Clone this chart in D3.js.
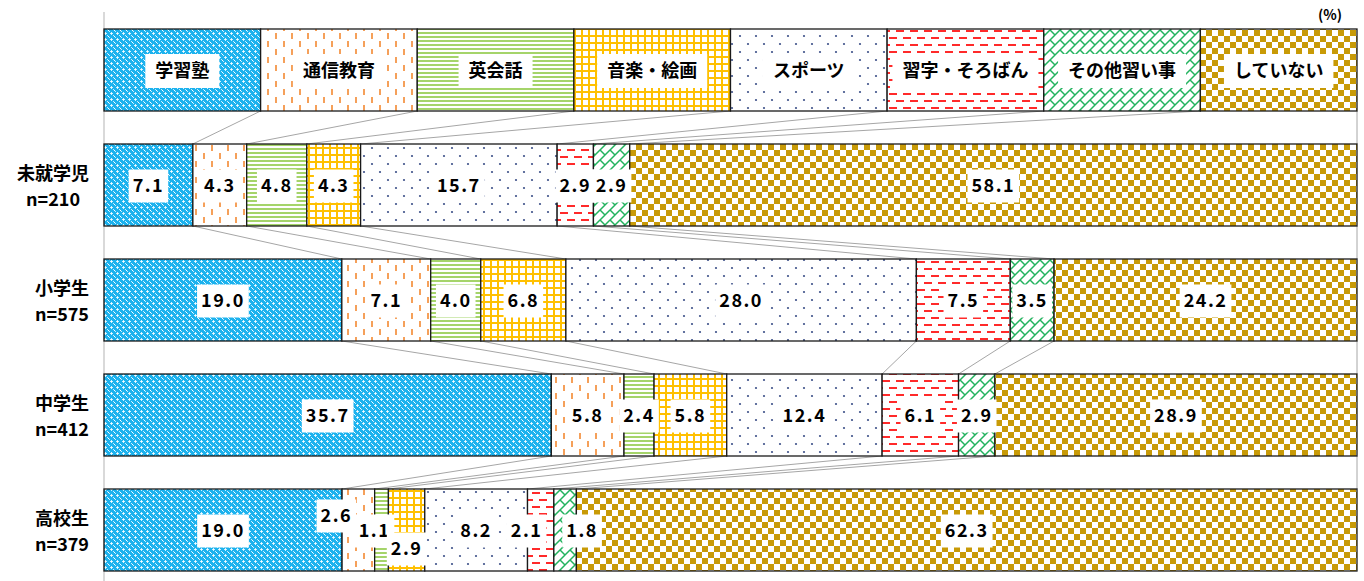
<!DOCTYPE html>
<html>
<head>
<meta charset="utf-8">
<script src="https://cdn.jsdelivr.net/npm/d3@7"></script>
<style>
  body { margin: 0; background: #fff; }
  svg { display: block; font-family: "Noto Sans CJK JP", "Noto Sans", sans-serif; }
</style>
</head>
<body>
<div id="chart"></div>
<script>
// 学年別の習い事（%）
var categories = ["未就学児", "小学生", "中学生", "高校生"];
var sampleSizes = ["n=210", "n=575", "n=412", "n=379"];
var seriesNames = ["学習塾", "通信教育", "英会話", "音楽・絵画", "スポーツ", "習字・そろばん", "その他習い事", "していない"];

var preschool = [7.1, 4.3, 4.8, 4.3, 15.7, 2.9, 2.9, 58.1];
var elementary = [19.0, 7.1, 4.0, 6.8, 28.0, 7.5, 3.5, 24.2];
var juniorHigh = [35.7, 5.8, 2.4, 5.8, 12.4, 6.1, 2.9, 28.9];
var highSchool = [19.0, 2.6, 1.1, 2.9, 8.2, 2.1, 1.8, 62.3];

var rowValues = [preschool, elementary, juniorHigh, highSchool];

// small label nudges where the bars are too thin (px)
var labelNudge = {
  "高校生": [[0, 0], [-22, -15], [-7, 0], [0, 18], [0, 0], [-14, 0], [17, 0], [0, 0]]
};

var W = 1364, H = 581;
var svg = d3.select("#chart").append("svg")
  .attr("width", W).attr("height", H);

var defs = svg.append("defs");

// Fill patterns, one per series
function makePattern(id, w, h, draw) {
  var p = defs.append("pattern")
    .attr("id", id)
    .attr("patternUnits", "userSpaceOnUse")
    .attr("width", w).attr("height", h);
  draw(p);
}

makePattern("p0", 6, 6, function(p) {
  p.append("rect").attr("width", 6).attr("height", 6).attr("fill", "#1cb2ee");
  p.append("rect").attr("x", 2).attr("y", 3).attr("width", 3).attr("height", 1).attr("fill", "#fff").attr("opacity", 0.8);
  p.append("rect").attr("x", 3).attr("y", 2).attr("width", 1).attr("height", 3).attr("fill", "#fff").attr("opacity", 0.8);
  p.append("rect").attr("x", 0).attr("y", 0).attr("width", 1).attr("height", 1).attr("fill", "#fff");
  p.append("rect").attr("x", 1).attr("y", 1).attr("width", 1).attr("height", 1).attr("fill", "#c8ecfb");
  p.append("rect").attr("x", 5).attr("y", 5).attr("width", 1).attr("height", 1).attr("fill", "#c8ecfb");
});
makePattern("p1", 16, 16, function(p) {
  p.append("rect").attr("width", 16).attr("height", 16).attr("fill", "#fff");
  p.append("rect").attr("x", 3).attr("y", 1).attr("width", 2).attr("height", 6).attr("fill", "#f5a05a");
  p.append("rect").attr("x", 11).attr("y", 9).attr("width", 2).attr("height", 6).attr("fill", "#f5a05a");
});
makePattern("p2", 4, 4, function(p) {
  p.append("rect").attr("width", 4).attr("height", 4).attr("fill", "#fff");
  p.append("rect").attr("y", 0).attr("width", 4).attr("height", 2).attr("fill", "#a5d46a");
});
makePattern("p3", 7, 7, function(p) {
  p.append("rect").attr("width", 7).attr("height", 7).attr("fill", "#fff");
  p.append("rect").attr("width", 7).attr("height", 2).attr("fill", "#ffc000");
  p.append("rect").attr("width", 2).attr("height", 7).attr("fill", "#ffc000");
});
makePattern("p4", 16, 16, function(p) {
  p.append("rect").attr("width", 16).attr("height", 16).attr("fill", "#fff");
  p.append("circle").attr("cx", 4).attr("cy", 4).attr("r", 1.1).attr("fill", "#3d5088");
  p.append("circle").attr("cx", 12).attr("cy", 12).attr("r", 1.1).attr("fill", "#3d5088");
});
makePattern("p5", 14, 14, function(p) {
  p.append("rect").attr("width", 14).attr("height", 14).attr("fill", "#fff");
  p.append("rect").attr("x", 0).attr("y", 2).attr("width", 8).attr("height", 2).attr("fill", "#ff2a2a");
  p.append("rect").attr("x", 7).attr("y", 9).attr("width", 7).attr("height", 2).attr("fill", "#ff2a2a");
  p.append("rect").attr("x", 0).attr("y", 9).attr("width", 1).attr("height", 2).attr("fill", "#ff2a2a");
});
makePattern("p6", 10, 10, function(p) {
  p.append("rect").attr("width", 10).attr("height", 10).attr("fill", "#fff");
  p.append("path")
    .attr("d", "M-1,11 L11,-1 M-1,1 L1,-1 M9,11 L11,9 M0,0 L5,5")
    .attr("stroke", "#22b35e").attr("stroke-width", 1.5).attr("fill", "none");
});
makePattern("p7", 12, 12, function(p) {
  p.append("rect").attr("width", 12).attr("height", 12).attr("fill", "#fff");
  p.append("rect").attr("width", 6).attr("height", 6).attr("fill", "#c89a06");
  p.append("rect").attr("x", 6).attr("y", 6).attr("width", 6).attr("height", 6).attr("fill", "#c89a06");
});

// Scales: first band is the legend bar, the rest are the data rows
var bands = ["legend"].concat(categories);
var y = d3.scaleBand()
  .domain(bands)
  .range([12.5, 587.5])
  .paddingInner(33 / 115)
  .paddingOuter(0.5 * 33 / 115);

var x = d3.scaleLinear().domain([0, 100]).range([104, 1357]);

// Cumulative percents per band (normalised to 100, like a 100% stacked bar)
function cumulative(vals) {
  var total = d3.sum(vals);
  var acc = [0];
  vals.forEach(function(v, i) { acc.push(acc[i] + v / total * 100); });
  return acc;
}
var legendVals = seriesNames.map(function() { return 100 / seriesNames.length; });
var cums = [cumulative(legendVals)].concat(rowValues.map(cumulative));

// connector lines between neighbouring bars
var lineG = svg.append("g");
for (var k = 0; k < bands.length - 1; k++) {
  for (var j = 0; j < cums[k].length; j++) {
    lineG.append("line")
      .attr("x1", x(cums[k][j])).attr("y1", y(bands[k]) + y.bandwidth())
      .attr("x2", x(cums[k + 1][j])).attr("y2", y(bands[k + 1]))
      .attr("stroke", "#a6a6a6").attr("stroke-width", 1);
  }
}

// vertical axis line
svg.append("line")
  .attr("x1", 104).attr("x2", 104).attr("y1", 12).attr("y2", H)
  .attr("stroke", "#d9d9d9").attr("stroke-width", 2);

// Bars
bands.forEach(function(band, k) {
  var g = svg.append("g").attr("class", "bar");
  var c = cums[k];
  seriesNames.forEach(function(s, i) {
    g.append("rect")
      .attr("x", x(c[i]))
      .attr("y", y(band))
      .attr("width", x(c[i + 1]) - x(c[i]))
      .attr("height", y.bandwidth())
      .attr("fill", "url(#p" + i + ")")
      .attr("stroke", "#1a1a1a")
      .attr("stroke-width", 1.3);
  });
});

// Label with white box behind it
function boxedLabel(cx, cy, txt, size, padX, boxH, spacing) {
  var g = svg.append("g");
  var box = g.append("rect").attr("fill", "#fff");
  var t = g.append("text")
    .attr("x", cx).attr("y", cy)
    .attr("dy", "0.36em")
    .attr("text-anchor", "middle")
    .attr("font-size", size)
    .attr("font-weight", "bold")
    .attr("letter-spacing", spacing)
    .attr("fill", "#000")
    .text(txt);
  var w = t.node().getComputedTextLength();
  box.attr("x", cx - w / 2 - padX).attr("y", cy - boxH / 2)
    .attr("width", w + padX * 2).attr("height", boxH);
}

// legend labels
seriesNames.forEach(function(s, i) {
  var c = cums[0];
  boxedLabel((x(c[i]) + x(c[i + 1])) / 2, y("legend") + y.bandwidth() / 2 + 1, s, 18, 10, 34, 0);
});

// value labels
categories.forEach(function(cat, r) {
  var c = cums[r + 1];
  var nudge = labelNudge[cat];
  rowValues[r].forEach(function(v, i) {
    var dx = nudge ? nudge[i][0] : 0;
    var dy = nudge ? nudge[i][1] : 0;
    boxedLabel((x(c[i]) + x(c[i + 1])) / 2 + dx, y(cat) + y.bandwidth() / 2 + 1 + dy,
      v.toFixed(1), 18, 4, 33, 1.5);
  });
});

// row titles: two centred lines, block right-aligned near the axis
categories.forEach(function(cat, r) {
  var cy = y(cat) + y.bandwidth() / 2;
  var t1 = svg.append("text")
    .attr("y", cy - 5).attr("text-anchor", "middle")
    .attr("font-size", 18).attr("font-weight", "bold").attr("fill", "#000")
    .text(cat);
  var t2 = svg.append("text")
    .attr("y", cy + 21).attr("text-anchor", "middle")
    .attr("font-size", 18).attr("font-weight", "bold").attr("fill", "#000")
    .text(sampleSizes[r]);
  var wMax = Math.max(t1.node().getComputedTextLength(), t2.node().getComputedTextLength());
  var cx = 89 - wMax / 2;
  t1.attr("x", cx);
  t2.attr("x", cx);
});

svg.append("text")
  .attr("x", 1330).attr("y", 20)
  .attr("text-anchor", "middle")
  .attr("font-size", 14).attr("font-weight", "bold")
  .text("(%)");
</script>
</body>
</html>
